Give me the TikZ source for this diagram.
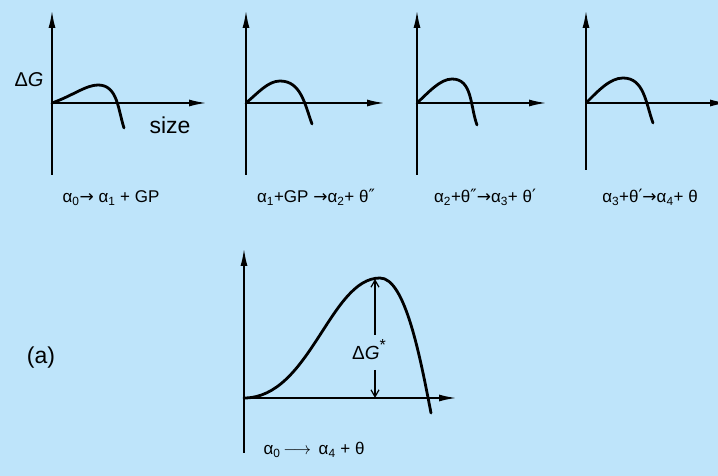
\documentclass[tikz,border=0pt]{standalone}
\usepackage{fontspec}
\setmainfont{Liberation Sans}
\newfontfamily\dv{DejaVu Sans}
\usetikzlibrary{arrows.meta}
\definecolor{bg}{RGB}{190,228,250}
\newcommand{\sbs}[1]{\textsubscript{#1}}
\newcommand{\pr}[1]{\raisebox{0.15ex}{\dv #1}}
\begin{document}
\begin{tikzpicture}[x=1pt,y=1pt,
 axis/.style={line width=2pt,-{Latex[length=18pt,width=7pt]}},
 curve/.style={line width=2.8pt,line cap=round},
 dim/.style={line width=1.2pt,-{Straight Barb[length=7pt,width=8pt]}},
 lab/.style={font=\fontsize{17}{19}\selectfont,anchor=base,inner sep=0pt},
 big/.style={font=\fontsize{23}{25}\selectfont,inner sep=0pt},
]
\fill[bg] (0,0) rectangle (718,476);
\useasboundingbox (0,0) rectangle (718,476);

% panel 1
\coordinate (o1) at (52,373);
\coordinate (b1) at (52,301);
\coordinate (t1) at (52,466);
\coordinate (r1) at (207,373);
\draw[axis] (b1) -- (t1);
\draw[axis] (o1) -- (r1);
\draw[curve] (o1) .. controls (72,380) and (86,391) .. (98,391) to[out=0,in=108] (124,348);
\node[font=\fontsize{20}{22}\selectfont,inner sep=0pt] (dg) at (29,396) {Δ\textit{G}};
\node[big] (sz) at (170,351) {size};
\node[lab] (l1) at (111,273) {α\sbs{0}{\dv →} α\sbs{1} + GP};

% panel 2
\coordinate (o2) at (246,373);
\coordinate (b2) at (246,301);
\coordinate (t2) at (246,466);
\coordinate (r2) at (385,373);
\draw[axis] (b2) -- (t2);
\draw[axis] (o2) -- (r2);
\draw[curve] (o2) .. controls (258,383) and (268,395) .. (280,395) to[out=0,in=110] (312,352);
\node[lab] (l2) at (316,273) {α\sbs{1}+GP {\dv →}α\sbs{2}+ θ\pr{″}};

% panel 3
\coordinate (o3) at (417,373);
\coordinate (b3) at (417,301);
\coordinate (t3) at (417,466);
\coordinate (r3) at (547,373);
\draw[axis] (b3) -- (t3);
\draw[axis] (o3) -- (r3);
\draw[curve] (o3) .. controls (428,383) and (440,397) .. (452,397) to[out=0,in=110] (477,351);
\node[lab] (l3) at (485,273) {α\sbs{2}+θ\pr{″}{\dv →}α\sbs{3}+ θ\pr{′}};

% panel 4
\coordinate (o4) at (586,373);
\coordinate (b4) at (586,306);
\coordinate (t4) at (586,466);
\coordinate (r4) at (728,373);
\draw[axis] (b4) -- (t4);
\draw[axis] (o4) -- (r4);
\draw[curve] (o4) .. controls (598,385) and (610,398) .. (623,398) to[out=0,in=110] (653,353);
\node[lab] (l4) at (650,273) {α\sbs{3}+θ\pr{′}{\dv →}α\sbs{4}+ θ};

% bottom panel
\coordinate (o5) at (244,78);
\coordinate (b5) at (244,23);
\coordinate (t5) at (244,228);
\coordinate (r5) at (457,78);
\draw[axis] (b5) -- (t5);
\draw[axis] (o5) -- (r5);
\draw[curve] (o5) .. controls (310,78) and (330,198) .. (380,198) .. controls (405,198) and (420,120) .. (431,63);
\coordinate (pk) at (375,197);
\coordinate (ax) at (375,78);
\coordinate (g1) at (375,141);
\coordinate (g2) at (375,106);
\draw[dim] (g1) -- (pk);
\draw[dim] (g2) -- (ax);
\node[font=\fontsize{19}{21}\selectfont,inner sep=0pt] (dgs) at (369,126) {Δ\textit{G}\raisebox{0.9ex}{\fontsize{16}{16}\selectfont *}};
\node[big] (a) at (41,118) {(a)};
\node[lab] (l5) at (314,21) {α\sbs{0}\,$\longrightarrow$\, α\sbs{4} + θ};
\end{tikzpicture}
\end{document}
